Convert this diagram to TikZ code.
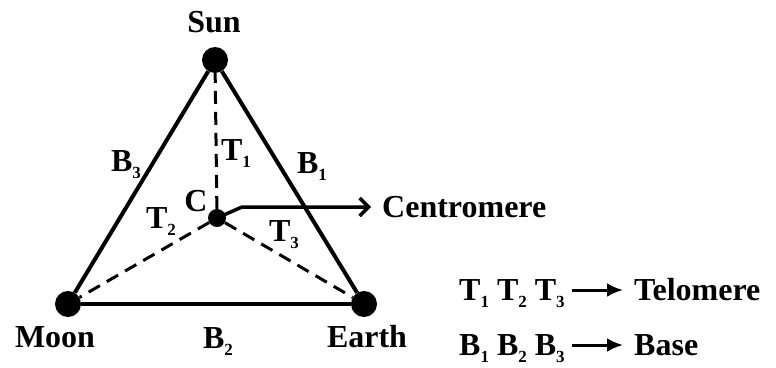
\documentclass[tikz,border=0pt]{standalone}
\usepackage{fontspec}
\setmainfont{Liberation Serif}
\usetikzlibrary{arrows.meta}

\newcommand{\idx}[1]{\raisebox{-7pt}{\fontsize{17}{17}\selectfont #1}}

\begin{document}
\begin{tikzpicture}[
    x=1pt, y=-1pt,
    dot/.style={circle, fill=black, inner sep=0pt, minimum size=26pt},
    cdot/.style={circle, fill=black, inner sep=0pt, minimum size=18pt},
    lbl/.style={font=\fontsize{32}{36}\selectfont\bfseries, inner sep=1pt,
                text height=21pt, text depth=0pt},
    side/.style={line width=4pt},
    arm/.style={line width=3pt, dash pattern=on 13pt off 8pt},
    legarrow/.style={line width=3pt, -{Latex[length=16pt,width=14pt]},
                     shorten <=6pt, shorten >=10pt}
]

\useasboundingbox (0,0) rectangle (776,367);

% ================= sommets =================

\node[dot] (sun)   at (215,60)  {};
\node[dot] (moon)  at (68,304)  {};
\node[dot] (earth) at (364,304) {};
\node[cdot] (c)    at (217,218) {};

\draw[side] (sun)--(moon);
\draw[side] (moon)--(earth);
\draw[side] (earth)--(sun);

\draw[arm] (c)--(sun);
\draw[arm] (c)--(moon);
\draw[arm] (c)--(earth);

% ================= etiquettes =================

\node[lbl] (sunlbl)   at (214,22)  {Sun};
\node[lbl] (moonlbl)  at (55,337)  {Moon};
\node[lbl] (earthlbl) at (367,337) {Earth};
\node[lbl] (clbl)     at (196,201) {C};

\node[lbl] (b1) at (312,163) {B\idx{1}};
\node[lbl] (b2) at (218,338) {B\idx{2}};
\node[lbl] (b3) at (126,161) {B\idx{3}};
\node[lbl] (t1) at (236,150) {T\idx{1}};
\node[lbl] (t2) at (161,218) {T\idx{2}};
\node[lbl] (t3) at (284,231) {T\idx{3}};

% ================= centromere =================

\node[lbl, anchor=west] (centro) at (381,207) {Centromere};
\coordinate (bend) at (242,207);
\draw[line width=3.5pt, -{Straight Barb[length=9pt,width=18pt]}, shorten >=10pt]
    (c.center)--(bend)--(centro.west);

% ================= legende =================

\node[lbl, anchor=west] (tl)   at (458,290) {T\idx{1} T\idx{2} T\idx{3}};
\node[lbl, anchor=west] (telo) at (633,290) {Telomere};
\node[lbl, anchor=west] (bl)   at (458,345) {B\idx{1} B\idx{2} B\idx{3}};
\node[lbl, anchor=west] (base) at (633,345) {Base};

\draw[legarrow] (tl)--(telo);
\draw[legarrow] (bl)--(base);

\end{tikzpicture}
\end{document}
